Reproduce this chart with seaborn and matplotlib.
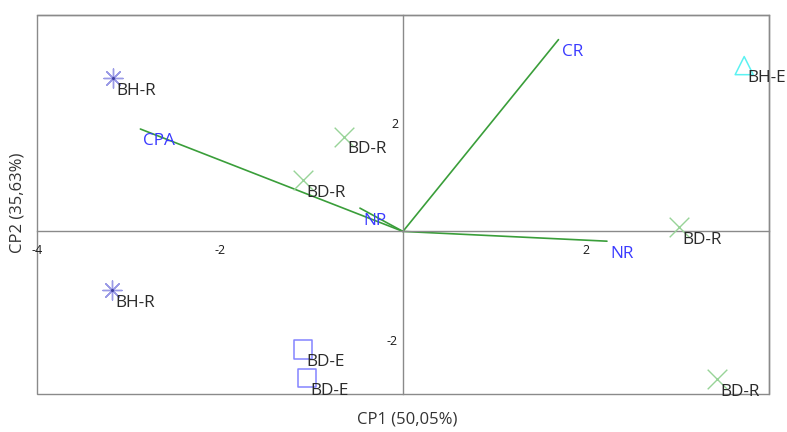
import matplotlib
matplotlib.use("Agg")
import matplotlib.pyplot as plt
import seaborn as sns
import pandas as pd

sns.set_style("white")
plt.rcParams['font.family'] = ['Open Sans', 'DejaVu Sans']
plt.rcParams['axes.unicode_minus'] = False

# Observations (scores)
obs_labels = ["BH-R", "BH-R", "BD-R", "BD-R", "BH-E", "BD-R", "BD-R", "BD-E", "BD-E"]
obs_x = [-3.17, -3.18, -0.64, -1.09, 3.73, 3.02, 3.43, -1.09, -1.05]
obs_y = [2.83, -1.09, 1.75, 0.95, 3.06, 0.08, -2.72, -2.18, -2.70]

# Variables (loadings)
var_labels = ["CR", "CPA", "NP", "NR"]
var_x = [1.70, -2.87, -0.47, 2.23]
var_y = [3.54, 1.89, 0.43, -0.18]

x_ticks = [-4, -2, 2]
y_ticks = [-2, 2]
x_label = "CP1 (50,05%)"
y_label = "CP2 (35,63%)"

df = pd.DataFrame({"x": obs_x, "y": obs_y, "grp": obs_labels})

fig = plt.figure(figsize=(7.87, 4.32), dpi=100)
ax = fig.add_axes([0.047, 0.088, 0.93, 0.878])
ax.set_xlim(-4, 4)
ax.set_ylim(-3, 4)

styles = {
    "BH-R": dict(marker=(8, 2, 0), color="#9a9ae6", s=190, filled=False),
    "BD-R": dict(marker="x", color="#98d498", s=200, filled=False),
    "BH-E": dict(marker="^", color="#5cf2f2", s=170, filled=True),
    "BD-E": dict(marker="s", color="#8484ff", s=170, filled=True),
}
for g, st in styles.items():
    sub = df[df.grp == g]
    if st["filled"]:
        sns.scatterplot(data=sub, x="x", y="y", marker=st["marker"], s=st["s"],
                        facecolors="none", edgecolor=st["color"], linewidth=1.1,
                        ax=ax, zorder=3)
    else:
        sns.scatterplot(data=sub, x="x", y="y", marker=st["marker"], s=st["s"],
                        color=st["color"], linewidth=1.0, ax=ax, zorder=3)
# small dark centre dot of the asterisk markers
bh = df[df.grp == "BH-R"]
sns.scatterplot(data=bh, x="x", y="y", marker="o", s=5, color="#4040a0",
                linewidth=0, ax=ax, zorder=3)

for xi, yi, lab in zip(obs_x, obs_y, obs_labels):
    ax.annotate(lab, (xi, yi), xytext=(2.5, -3.5), textcoords="offset points",
                ha="left", va="top", fontsize=12.4, color="#2a2a2a", zorder=4)

vdf = pd.DataFrame({
    "x": [v for xv in var_x for v in (0, xv)],
    "y": [v for yv in var_y for v in (0, yv)],
    "var": [lab for lab in var_labels for _ in (0, 1)],
})
for lab in var_labels:
    sub = vdf[vdf["var"] == lab]
    sns.lineplot(data=sub, x="x", y="y", sort=False, color="#3a9e3a",
                 linewidth=1.2, ax=ax, zorder=2, estimator=None)
for xv, yv, lab in zip(var_x, var_y, var_labels):
    ax.annotate(lab, (xv, yv), xytext=(2.2, -3.2), textcoords="offset points",
                ha="left", va="top", fontsize=12.4, color="#3a3aff", zorder=4)

# zero-centred axes with a frame
for side in ("top", "right"):
    ax.spines[side].set_color("#8a8a8a")
    ax.spines[side].set_linewidth(1.0)
ax.spines["left"].set_position(("data", 0))
ax.spines["bottom"].set_position(("data", 0))
ax.spines["left"].set_color("#8a8a8a")
ax.spines["bottom"].set_color("#8a8a8a")
ax.spines["left"].set_linewidth(1.0)
ax.spines["bottom"].set_linewidth(1.0)
ax.patch.set_edgecolor("#8a8a8a")
ax.patch.set_linewidth(1.0)

ax.set_xticks(x_ticks)
ax.set_yticks(y_ticks)
ax.set_xticklabels([str(t) for t in x_ticks])
ax.set_yticklabels([str(t) for t in y_ticks])
ax.tick_params(axis="x", direction="in", length=3, pad=9, labelsize=9,
               color="#8a8a8a", labelcolor="#1a1a1a")
ax.tick_params(axis="y", direction="out", length=3, pad=0.5, labelsize=9,
               color="#8a8a8a", labelcolor="#1a1a1a")
ax.set_xlabel("")
ax.set_ylabel("")
fig.text(0.517, 0.028, x_label, ha="center", va="center", fontsize=12, color="#333333")
fig.text(0.022, 0.53, y_label, ha="center", va="center", rotation=90,
         fontsize=12, color="#333333")

fig.savefig("out.png", dpi=100)
